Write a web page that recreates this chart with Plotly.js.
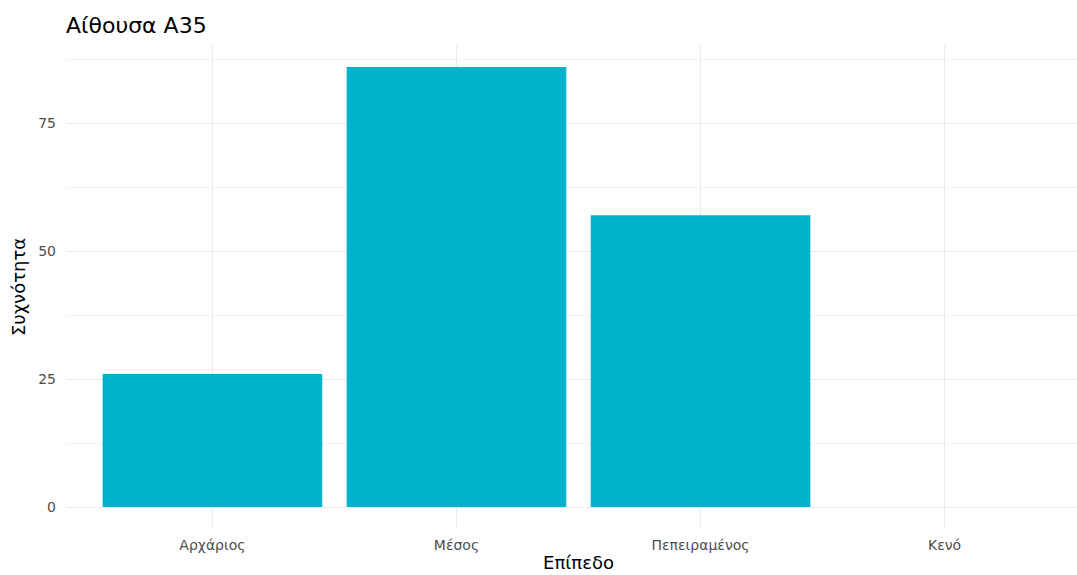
<!DOCTYPE html>
<html>
<head>
<meta charset="utf-8">
<script src="https://cdn.plot.ly/plotly-3.0.1.min.js"></script>
<style>
html, body { margin: 0; padding: 0; overflow: hidden; background: #fff; }
#chart { width: 1095px; height: 575px; }
</style>
</head>
<body>
<div id="chart"></div>
<script>
const categories = ["Αρχάριος", "Μέσος", "Πεπειραμένος", "Κενό"];
const counts = [26, 86, 57, 0];
const yTickValues = [0, 25, 50, 75];
const chartTitle = "Αίθουσα Α35";
const xTitle = "Επίπεδο";
const yTitle = "Συχνότητα";

const FONT = "DejaVu Sans, Liberation Sans, Arial, sans-serif";

const trace = {
  type: "bar",
  x: categories,
  y: counts,
  width: 0.9,
  marker: { color: "#00B2CA", line: { width: 0 } },
  hoverinfo: "x+y"
};

const layout = {
  width: 1095,
  height: 575,
  margin: { l: 66, r: 4, t: 45, b: 46 },
  paper_bgcolor: "#ffffff",
  plot_bgcolor: "#ffffff",
  font: { family: FONT, color: "#000000" },
  showlegend: false,
  bargap: 0.1,
  title: {
    text: chartTitle,
    font: { family: FONT, size: 22, color: "#000000" },
    xref: "paper", x: 0, xanchor: "left",
    yref: "container", y: 1 - 25 / 575, yanchor: "middle"
  },
  xaxis: {
    type: "category",
    range: [-0.6, 3.6],
    showgrid: true,
    gridcolor: "#EBEBEB",
    gridwidth: 1,
    zeroline: false,
    showline: false,
    ticks: "",
    tickfont: { family: FONT, size: 14, color: "#4D4D4D" },
    ticklabelstandoff: 6,
    automargin: false,
    title: { text: xTitle, font: { family: FONT, size: 18, color: "#000000" }, standoff: 4 }
  },
  yaxis: {
    range: [-4.3, 90.3],
    tickvals: yTickValues,
    ticktext: yTickValues.map(String),
    showgrid: true,
    gridcolor: "#EBEBEB",
    gridwidth: 1,
    minor: { showgrid: true, gridcolor: "#F2F2F2", gridwidth: 1, tickvals: [12.5, 37.5, 62.5, 87.5] },
    zeroline: false,
    showline: false,
    ticks: "",
    tickfont: { family: FONT, size: 14, color: "#4D4D4D" },
    ticklabelstandoff: 9,
    automargin: false,
    title: { text: yTitle, font: { family: FONT, size: 18, color: "#000000" }, standoff: 7 }
  }
};

Plotly.newPlot("chart", [trace], layout, { displayModeBar: false, staticPlot: false });
</script>
</body>
</html>
